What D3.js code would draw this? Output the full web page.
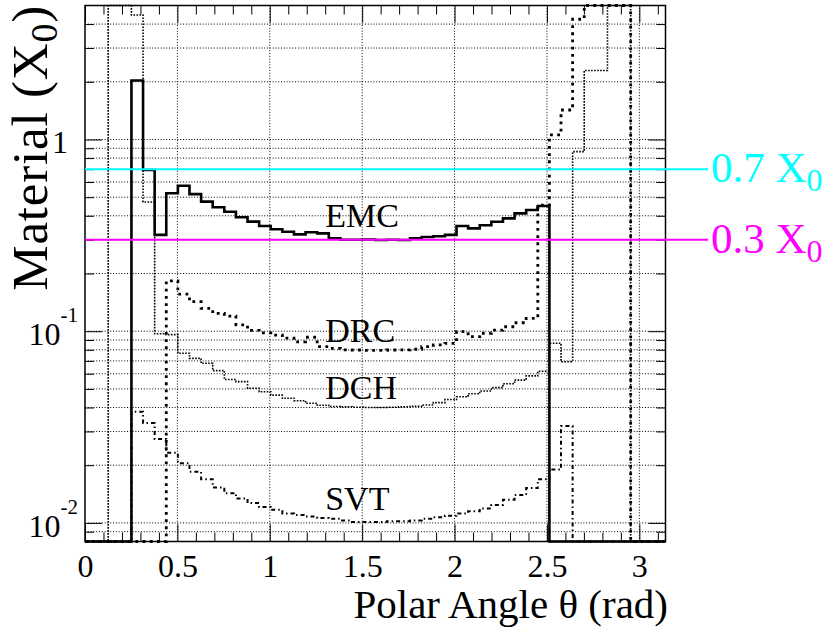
<!DOCTYPE html>
<html>
<head>
<meta charset="utf-8">
<script src="https://cdn.jsdelivr.net/npm/d3@7"></script>
<style>
  html, body { margin: 0; padding: 0; background: #fff; }
  svg { display: block; font-family: "Liberation Serif", "Times New Roman", serif; }
</style>
</head>
<body>
<svg id="chart" width="829" height="630"></svg>
<script>
// Material budget per sub-detector, in radiation lengths, versus polar angle.
// 50 equal bins over [0, pi]; OFF marks bins that run above the top of the axis.
const nBins = 50;
const thetaRange = [0, Math.PI];
const OFF = 20;

const emc = [0, 0, 0, 0, 2.03, 0.693, 0.318, 0.524, 0.574, 0.519,
             0.474, 0.443, 0.420, 0.393, 0.373, 0.354, 0.340, 0.330, 0.320, 0.328,
             0.324, 0.305, 0.300, 0.300, 0.301, 0.299, 0.300, 0.299, 0.305, 0.310,
             0.313, 0.318, 0.354, 0.344, 0.357, 0.3725, 0.388, 0.412, 0.429, 0.450,
             0, 0, 0, 0, 0, 0, 0, 0, 0, 0];

const drc = [0, 0, 0, 0, 0, 0, 0, 0.183, 0.156, 0.1425,
             0.1316, 0.124, 0.120, 0.108, 0.101, 0.098, 0.0955, 0.092, 0.088, 0.093,
             0.083, 0.0814, 0.080, 0.0798, 0.0795, 0.0795, 0.0798, 0.080, 0.0805, 0.083,
             0.0848, 0.0865, 0.0994, 0.0936, 0.0976, 0.1014, 0.1055, 0.1107, 0.1167, 0.455,
             1.056, 1.425, 4.24, OFF, OFF, OFF, OFF, 0, 0, 0];

const dch = [0, 0, OFF, OFF, 4.46, 0.472, 0.097, 0.096, 0.0767, 0.0722,
             0.068, 0.0623, 0.0560, 0.0546, 0.0504, 0.0483, 0.0464, 0.0447, 0.0434, 0.0421,
             0.0411, 0.0405, 0.0403, 0.0401, 0.0400, 0.0400, 0.0401, 0.0403, 0.0406, 0.0412,
             0.0424, 0.0440, 0.0455, 0.0472, 0.0488, 0.0508, 0.0532, 0.0556, 0.0585, 0.0618,
             0.0865, 0.0693, 0.864, 2.29, 2.29, OFF, OFF, 0, 0, 0];

const svt = [0, 0, 0, 0, 0.0380, 0.0332, 0.0274, 0.0232, 0.0205, 0.0185,
             0.0169, 0.0153, 0.0143, 0.0134, 0.0127, 0.0121, 0.0117, 0.0112, 0.0110, 0.0108,
             0.0106, 0.0105, 0.0103, 0.0101, 0.0101, 0.0101, 0.0102, 0.0102, 0.0103, 0.0105,
             0.0107, 0.0109, 0.0112, 0.0115, 0.0119, 0.0124, 0.0132, 0.0140, 0.0152, 0.0169,
             0.019, 0.032, 0, 0, 0, 0, 0, 0, 0, 0];

// Reference thicknesses
const refLevels = [
  { value: 0.7, label: "0.7 X", sub: "0", color: "#00ffff" },
  { value: 0.3, label: "0.3 X", sub: "0", color: "#ff00ff" }
];

// Detector labels placed next to their curves (theta, value at baseline)
const seriesLabels = [
  { text: "EMC", theta: 1.3, value: 0.350 },
  { text: "DRC", theta: 1.3, value: 0.0881 },
  { text: "DCH", theta: 1.3, value: 0.0441 },
  { text: "SVT", theta: 1.3, value: 0.01168 }
];

const xTickLabels = [0, 0.5, 1, 1.5, 2, 2.5, 3];
const yDecadeLabels = [
  { value: 1, base: "1", exp: null },
  { value: 0.1, base: "10", exp: "-1" },
  { value: 0.01, base: "10", exp: "-2" }
];
const yDomain = [0.008, 5];

// ---------------------------------------------------------------
(function draw() {
  const svg = d3.select("#chart");
  const x = d3.scaleLinear().domain(thetaRange).range([85, 665.5]);
  const y = d3.scaleLog().domain(yDomain).range([541.5, 5.5]);
  const [xLeft, xRight] = x.range();
  const [yBottom, yTop] = y.range();

  const thetaEdges = d3.range(nBins + 1).map(i => thetaRange[0] + i * (thetaRange[1] - thetaRange[0]) / nBins);
  const clampV = v => Math.min(Math.max(v, yDomain[0]), yDomain[1]);

  // Grid
  const xMinor = d3.range(0, 32).map(i => i / 10).filter(t => !xTickLabels.some(m => Math.abs(m - t) < 1e-9));
  const yTicks = y.ticks().filter(v => v > yDomain[0] * 1.0001 && v < yDomain[1] * 0.9999);
  const yMajor = yDecadeLabels.map(d => d.value);
  const yMinor = yTicks.filter(v => !yMajor.some(m => Math.abs(m - v) / m < 1e-6));

  const grid = svg.append("g").attr("stroke", "#000").attr("stroke-width", 1).attr("stroke-dasharray", "1,1.8");
  grid.selectAll("line.gx").data(xTickLabels.filter(t => t > 0)).join("line").attr("class", "gx")
    .attr("x1", d => x(d)).attr("x2", d => x(d)).attr("y1", yTop).attr("y2", yBottom);
  grid.selectAll("line.gy").data(yTicks).join("line").attr("class", "gy")
    .attr("x1", xLeft).attr("x2", xRight).attr("y1", d => y(d)).attr("y2", d => y(d));

  // Axis ticks (inward on all four sides)
  function styleAxis(g) { g.select(".domain").remove(); g.selectAll("line").attr("stroke-width", 1); }
  svg.append("g").attr("transform", `translate(0,${yBottom})`)
    .call(d3.axisBottom(x).tickValues(xTickLabels).tickSizeInner(-17).tickSizeOuter(0).tickPadding(13).tickFormat(d => String(d)))
    .call(styleAxis)
    .call(g => g.selectAll("text").attr("font-size", 32).attr("font-family", "Liberation Serif, serif").attr("fill", "#000"));
  svg.append("g").attr("transform", `translate(0,${yBottom})`)
    .call(d3.axisBottom(x).tickValues(xMinor).tickSizeInner(-9).tickSizeOuter(0).tickFormat(""))
    .call(styleAxis);
  svg.append("g").attr("transform", `translate(0,${yTop})`)
    .call(d3.axisTop(x).tickValues(xTickLabels).tickSizeInner(-17).tickSizeOuter(0).tickFormat(""))
    .call(styleAxis);
  svg.append("g").attr("transform", `translate(0,${yTop})`)
    .call(d3.axisTop(x).tickValues(xMinor).tickSizeInner(-9).tickSizeOuter(0).tickFormat(""))
    .call(styleAxis);
  svg.append("g").attr("transform", `translate(${xLeft},0)`)
    .call(d3.axisLeft(y).tickValues(yMajor).tickSizeInner(-17).tickSizeOuter(0).tickFormat(""))
    .call(styleAxis);
  svg.append("g").attr("transform", `translate(${xLeft},0)`)
    .call(d3.axisLeft(y).tickValues(yMinor).tickSizeInner(-9).tickSizeOuter(0).tickFormat(""))
    .call(styleAxis);
  svg.append("g").attr("transform", `translate(${xRight},0)`)
    .call(d3.axisRight(y).tickValues(yMajor).tickSizeInner(-17).tickSizeOuter(0).tickFormat(""))
    .call(styleAxis);
  svg.append("g").attr("transform", `translate(${xRight},0)`)
    .call(d3.axisRight(y).tickValues(yMinor).tickSizeInner(-9).tickSizeOuter(0).tickFormat(""))
    .call(styleAxis);

  // Y tick labels: 1, 10^-1, 10^-2
  const yl = svg.append("g").attr("font-size", 32).attr("fill", "#000").attr("text-anchor", "end");
  yDecadeLabels.forEach(d => {
    if (!d.exp) {
      yl.append("text").attr("x", 68).attr("y", y(d.value) + 13.5).text(d.base);
    } else {
      const t = yl.append("text").attr("x", 78).attr("y", y(d.value) + 14);
      t.append("tspan").text(d.base);
      t.append("tspan").attr("font-size", 21).attr("dy", -23).text(d.exp);
    }
  });

  // Histograms drawn as step outlines
  const stepLine = d3.line().x(d => x(d[0])).y(d => y(clampV(d[1]))).curve(d3.curveStepAfter);
  function stepPoints(values) {
    const pts = values.map((v, i) => [thetaEdges[i], v]);
    pts.push([thetaEdges[nBins], values[nBins - 1]]);
    return pts;
  }
  const series = [
    { values: svt, width: 2, dash: "4,3,1.5,3" },
    { values: dch, width: 1.6, dash: "1.6,1.4" },
    { values: drc, width: 2.8, dash: "2.8,4.4" },
    { values: emc, width: 2.6, dash: null }
  ];
  svg.append("g").attr("fill", "none").attr("stroke", "#000")
    .selectAll("path").data(series).join("path")
    .attr("d", d => stepLine(stepPoints(d.values)))
    .attr("stroke-width", d => d.width)
    .attr("stroke-dasharray", d => d.dash)
    .attr("stroke-linejoin", "miter");

  // Frame
  svg.append("rect").attr("x", xLeft).attr("y", yTop).attr("width", xRight - xLeft).attr("height", yBottom - yTop)
    .attr("fill", "none").attr("stroke", "#000").attr("stroke-width", 1.5);

  // Reference thickness lines and labels
  const refG = svg.append("g");
  refLevels.forEach(r => {
    refG.append("line").attr("x1", xLeft).attr("x2", xRight + 42.5)
      .attr("y1", y(r.value)).attr("y2", y(r.value))
      .attr("stroke", r.color).attr("stroke-width", 2);
    const t = refG.append("text").attr("x", 711).attr("y", y(r.value) + 13.2)
      .attr("font-size", 43).attr("fill", r.color);
    t.append("tspan").text(r.label);
    t.append("tspan").attr("font-size", 32).attr("dy", 9).text(r.sub);
  });

  // Detector labels
  svg.append("g").attr("font-size", 34).attr("fill", "#000")
    .selectAll("text").data(seriesLabels).join("text")
    .attr("x", d => x(d.theta)).attr("y", d => y(d.value)).text(d => d.text);

  // Axis titles
  svg.append("text").attr("x", 668).attr("y", 618).attr("text-anchor", "end")
    .attr("font-size", 41).attr("fill", "#000").text("Polar Angle θ (rad)");
  const yt = svg.append("text").attr("transform", "translate(46.5,5) rotate(-90)")
    .attr("text-anchor", "end").attr("font-size", 51).attr("letter-spacing", 0.8).attr("fill", "#000");
  yt.append("tspan").text("Material (X");
  yt.append("tspan").attr("font-size", 38).attr("dy", 10).text("0");
  yt.append("tspan").attr("dy", -10).text(")");
})();
</script>
</body>
</html>
